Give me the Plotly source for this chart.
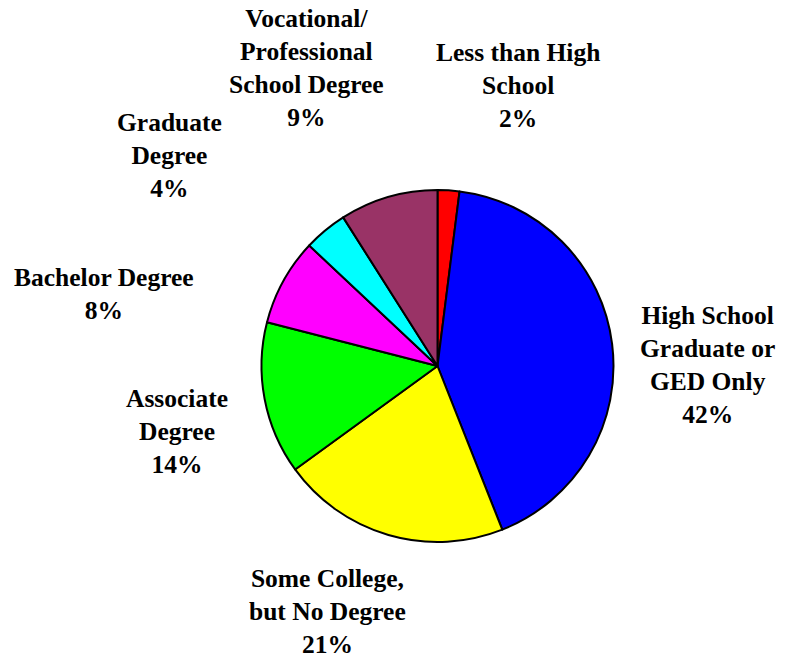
import plotly.graph_objects as go

categories = [
    "Less than High<br>School",
    "High School<br>Graduate or<br>GED Only",
    "Some College,<br>but No Degree",
    "Associate<br>Degree",
    "Bachelor Degree",
    "Graduate<br>Degree",
    "Vocational/<br>Professional<br>School Degree",
]
values = [2, 42, 21, 14, 8, 4, 9]
colors = ["#FF0000", "#0000FF", "#FFFF00", "#00FF00", "#FF00FF", "#00FFFF", "#993366"]

# label centre positions in pixels (layout only)
label_px = [(518, 85), (707, 365), (327, 611), (177, 432), (104, 294), (169, 156), (306, 68)]

W, H = 791, 661
cx, cy, r = 437.5, 366, 176
FONT = "Liberation Serif, Times New Roman, serif"

fig = go.Figure()
fig.add_trace(go.Pie(
    labels=[c.replace("<br>", " ") for c in categories],
    values=values,
    sort=False,
    direction="clockwise",
    rotation=0,
    marker=dict(colors=colors, line=dict(color="black", width=2)),
    textinfo="none",
    hoverinfo="label+percent",
    domain=dict(x=[(cx - r) / W, (cx + r) / W], y=[1 - (cy + r) / H, 1 - (cy - r) / H]),
))

for cat, v, (px, py) in zip(categories, values, label_px):
    fig.add_annotation(
        x=px / W, y=1 - py / H, xref="paper", yref="paper",
        text=f"<b>{cat}<br>{v}%</b>", showarrow=False,
        xanchor="center", yanchor="middle", align="center",
        borderpad=0,
        font=dict(family=FONT, size=25.5, color="black"),
    )

fig.update_layout(
    width=W, height=H,
    margin=dict(l=0, r=0, t=0, b=0),
    showlegend=False,
    paper_bgcolor="white",
    plot_bgcolor="white",
    font=dict(family=FONT, size=25, color="black"),
)

fig.write_html(
    "out.html",
    config={"displayModeBar": False},
    post_script="document.body.style.margin='0';document.body.style.overflow='hidden';",
)
